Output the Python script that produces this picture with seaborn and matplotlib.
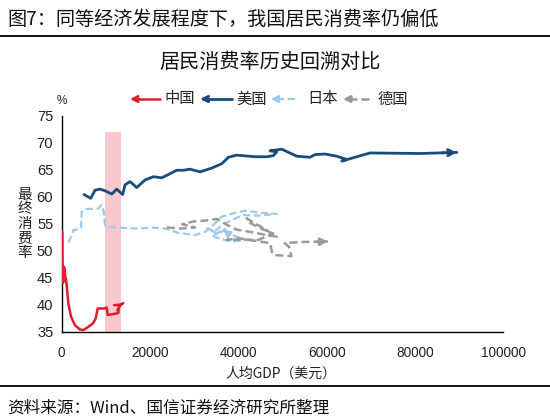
import numpy as np
import pandas as pd
import matplotlib
matplotlib.use("Agg")
import matplotlib.pyplot as plt
from matplotlib.lines import Line2D
import seaborn as sns

# ---------------- data ----------------
china_gdp = [140, 180, 226, 300, 420, 521, 700, 850, 974, 1133, 1495, 2106, 3012, 4145, 4892,
             6025, 7157, 7701, 8154, 9649, 10193, 10419, 11325, 12457, 12820, 12950, 13950]
china_rate = [53.5, 49.0, 44.0, 46.5, 44.2, 47.0, 46.2, 45.0, 44.8, 43.6, 40.3, 37.8, 36.2, 35.4, 35.3,
              35.9, 36.6, 37.5, 39.3, 39.3, 39.5, 38.1, 38.2, 38.4, 38.5, 39.8, 40.3]

us_gdp = [5050, 6570, 7540, 8680, 9810, 11330, 12460, 13820, 14340, 15470, 16990, 18870, 20750,
          22650, 24150, 26050, 27540, 29060, 31330, 33980, 36240, 37740, 39640, 43780, 46430, 47930,
          48700, 47180, 49830, 53230, 56240, 57370, 59640, 62290, 64550, 63420, 69830, 81160, 89470]
us_rate = [60.4, 59.7, 61.2, 61.4, 61.1, 60.5, 61.4, 60.4, 62.2, 62.8, 61.7, 63.1, 63.7,
           63.5, 64.1, 64.9, 64.9, 65.1, 64.6, 65.3, 66.1, 67.3, 67.7, 67.4, 67.4, 67.6,
           68.3, 68.5, 68.8, 67.5, 67.3, 67.8, 67.9, 67.5, 66.9, 66.6, 68.1, 68.0, 68.2]

japan_gdp = [1500, 1900, 2630, 3760, 4370, 4530, 5280, 8290, 9060, 9420, 9650, 9810, 10300, 11690,
             17350, 20390, 23400, 26410, 30190, 32460, 34000, 36240, 39250, 41520, 45300, 48700,
             44500, 41130, 38000, 36000, 34500, 33000, 35500, 37000, 34000, 36000, 38500, 41900,
             39500, 37500, 36500]
japan_rate = [51.5, 52.2, 53.8, 54.0, 54.2, 57.2, 57.7, 57.8, 58.5, 57.5, 56.6, 54.8, 54.5, 54.3,
              54.1, 54.3, 54.1, 53.3, 52.9, 53.5, 54.5, 56.3, 57.0, 57.4, 57.0, 56.8,
              56.5, 56.6, 55.5, 54.5, 53.5, 54.2, 53.0, 54.0, 52.8, 52.2, 51.7, 52.0,
              52.6, 53.3, 53.9]

germany_gdp = [23800, 27000, 30200, 27300, 29800, 32800, 35100, 37400, 39600, 42600, 46400, 48700,
               46000, 43500, 41900, 42700, 44900, 47900, 44200, 41100, 37400, 40000, 44900, 47200,
               47600, 48100, 52000, 51500, 50500, 54000, 60300]
germany_rate = [54.3, 54.1, 54.3, 54.9, 55.4, 55.6, 55.9, 54.8, 53.9, 53.5, 52.9, 52.6,
                54.0, 55.2, 56.0, 55.1, 54.2, 53.2, 51.9, 52.1, 52.0, 52.3, 51.7, 51.4,
                49.8, 49.2, 49.0, 50.7, 51.4, 51.6, 51.7]

band_gdp = [9700, 13500]
band_top = 72

countries = ["中国", "美国", "日本", "德国"]
x_ticks = [0, 20000, 40000, 60000, 80000, 100000]
y_ticks = [35, 40, 45, 50, 55, 60, 65, 70, 75]

title_text = "图7：同等经济发展程度下，我国居民消费率仍偏低"
subtitle_text = "居民消费率历史回溯对比"
xlabel_text = "人均GDP（美元）"
ylabel_text = "最终消费率"
source_text = "资料来源：Wind、国信证券经济研究所整理"

# ---------------- style ----------------
sns.set_theme(style="white")
cjk = ["Noto Sans CJK SC", "DejaVu Sans"]
num_font = ["Liberation Sans", "DejaVu Sans"]
plt.rcParams["font.family"] = cjk
plt.rcParams["axes.unicode_minus"] = False

colors = {"中国": "#DC1E2D", "美国": "#184B7E", "日本": "#9DC8F0", "德国": "#9A9A9A"}
widths = {"中国": 1.8, "美国": 2.0, "日本": 1.6, "德国": 1.8}
dashes = {"中国": None, "美国": None, "日本": (3.2, 1.6), "德国": (3.2, 1.6)}

W, H = 550, 419
fig = plt.figure(figsize=(W / 100, H / 100), dpi=100)
ax_l, ax_r, ax_t, ax_b = 61.7, 503.3, 115.7, 331.7
ax = fig.add_axes([ax_l / W, 1 - ax_b / H, (ax_r - ax_l) / W, (ax_b - ax_t) / H])

# pink band
ax.fill_between(band_gdp, [y_ticks[0]] * 2, [band_top] * 2, color="#F7C8CE", lw=0, zorder=1)

series = {
    "中国": (china_gdp, china_rate),
    "美国": (us_gdp, us_rate),
    "日本": (japan_gdp, japan_rate),
    "德国": (germany_gdp, germany_rate),
}
order_z = {"日本": 2, "德国": 3, "美国": 4, "中国": 5}

for c in ["日本", "德国", "美国", "中国"]:
    gx, gy = series[c]
    df = pd.DataFrame({"gdp": gx, "rate": gy})
    kw = dict(color=colors[c], lw=widths[c], zorder=order_z[c])
    if dashes[c] is not None:
        kw["dashes"] = dashes[c]
    sns.lineplot(data=df, x="gdp", y="rate", sort=False, estimator=None, ax=ax,
                 legend=False, **kw)
    # arrowhead at end of series
    x0, y0 = gx[-2], gy[-2]
    x1, y1 = gx[-1], gy[-1]
    xt = x0 + 0.6 * (x1 - x0)
    yt = y0 + 0.6 * (y1 - y0)
    style = "->" if c in ("美国", "中国") else "-|>"
    ax.annotate("", xy=(x1, y1), xytext=(xt, yt),
                arrowprops=dict(arrowstyle=style, color=colors[c], lw=widths[c],
                                mutation_scale=11, shrinkA=0, shrinkB=0),
                zorder=order_z[c] + 1)

ax.set_xlim(x_ticks[0], x_ticks[-1])
ax.set_ylim(y_ticks[0], y_ticks[-1])
ax.set_xticks(x_ticks)
ax.set_yticks(y_ticks)
ax.set_xticklabels([str(v) for v in x_ticks], fontfamily=num_font, fontsize=9.8, color="#222222")
ax.set_yticklabels([str(v) for v in y_ticks], fontfamily=num_font, fontsize=10.6, color="#222222")
ax.tick_params(axis="x", direction="in", length=4, width=1, pad=10, colors="black", labelcolor="#222222")
ax.tick_params(axis="y", direction="in", length=4, width=1, pad=6, colors="black", labelcolor="#222222")
for s in ["top", "right"]:
    ax.spines[s].set_visible(False)
for s in ["left", "bottom"]:
    ax.spines[s].set_color("black")
    ax.spines[s].set_linewidth(1.0)
ax.set_xlabel("")
ax.set_ylabel("")
ax.grid(False)

# ---------------- texts ----------------
fig.text(7 / W, 1 - 19 / H, title_text, fontsize=13.8, ha="left", va="center", color="#111111")
fig.add_artist(Line2D([0, 1], [1 - 36 / H, 1 - 36 / H], transform=fig.transFigure, color="black", lw=1.3))
fig.text(270 / W, 1 - 62 / H, subtitle_text, fontsize=14.5, ha="center", va="center", color="#111111")
fig.text(281 / W, 1 - 374 / H, xlabel_text, fontsize=10, ha="center", va="center", color="#222222")
fig.text(25 / W, 1 - 224 / H, "\n".join(ylabel_text), fontsize=10.5, ha="center", va="center",
         linespacing=1.05, color="#222222")
fig.text(62 / W, 1 - 101 / H, "%", fontsize=8.5, ha="center", va="center", color="#222222",
         fontfamily=num_font)
fig.add_artist(Line2D([0, 1], [1 - 386 / H, 1 - 386 / H], transform=fig.transFigure, color="black", lw=1.3))
fig.text(7 / W, 1 - 408 / H, source_text, fontsize=12, ha="left", va="center", color="#111111")

# ---------------- legend (arrows pointing left) ----------------
leg_y = 1 - 99 / H
leg_items = [("中国", 130, 160, 165), ("美国", 200, 232, 236), ("日本", 271, 298, 307), ("德国", 343, 373, 378)]
for c, xa, xb, xt_ in leg_items:
    if dashes[c] is None:
        fig.add_artist(Line2D([(xa + 3) / W, xb / W], [leg_y, leg_y], transform=fig.transFigure,
                              color=colors[c], lw=widths[c]))
    else:
        fig.add_artist(Line2D([(xa + 6) / W, xb / W], [leg_y, leg_y], transform=fig.transFigure,
                              color=colors[c], lw=widths[c], dashes=dashes[c]))
    style = "->" if dashes[c] is None else "-|>"
    ax.annotate("", xy=(xa / W, leg_y), xytext=((xa + 9) / W, leg_y), xycoords="figure fraction",
                textcoords="figure fraction",
                arrowprops=dict(arrowstyle=style, color=colors[c], lw=widths[c], mutation_scale=10,
                                shrinkA=0, shrinkB=0), annotation_clip=False)
    fig.text(xt_ / W, leg_y, c, fontsize=11, ha="left", va="center", color="#222222")

fig.savefig("out.png", dpi=100)
